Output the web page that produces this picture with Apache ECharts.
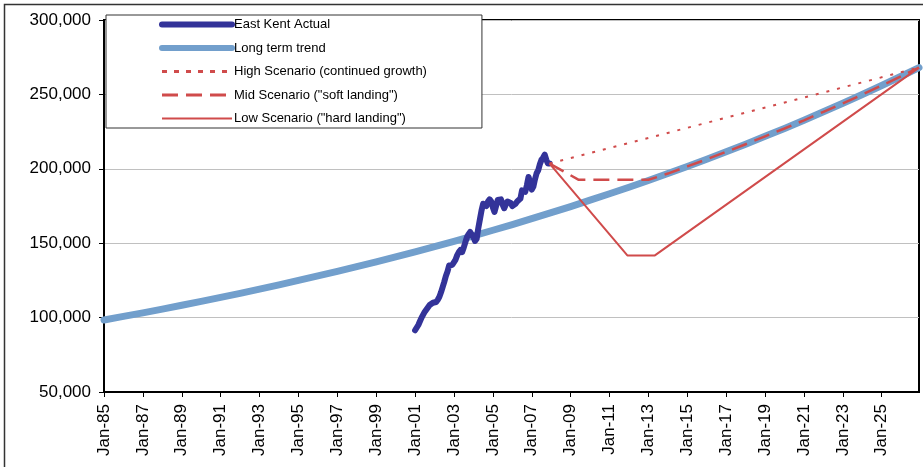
<!DOCTYPE html>
<html>
<head>
<meta charset="utf-8">
<script src="https://cdn.jsdelivr.net/npm/echarts@6/dist/echarts.min.js"></script>
<style>
  html, body { margin: 0; padding: 0; background: #fff; }
  #chart { width: 923px; height: 467px; }
</style>
</head>
<body>
<div id="chart"></div>
<script>
// ---------------- data ----------------
const axisStart = '1985-01';
const axisEnd = '2026-12';
const yTicks = [50000, 100000, 150000, 200000, 250000, 300000];

const seriesNames = [
  'East Kent Actual',
  'Long term trend',
  'High Scenario (continued growth)',
  'Mid Scenario ("soft landing")',
  'Low Scenario ("hard landing")'
];

const trendDates = ['1985-01','1986-01','1987-01','1988-01','1989-01','1990-01','1991-01','1992-01','1993-01','1994-01',
  '1995-01','1996-01','1997-01','1998-01','1999-01','2000-01','2001-01','2002-01','2003-01','2004-01',
  '2005-01','2006-01','2007-01','2008-01','2009-01','2010-01','2011-01','2012-01','2013-01','2014-01',
  '2015-01','2016-01','2017-01','2018-01','2019-01','2020-01','2021-01','2022-01','2023-01','2024-01',
  '2025-01','2026-01','2026-12'];
const trendValues = [98400,100800,103200,105700,108300,110900,113600,116300,119100,122000,
  125000,128000,131100,134300,137500,140800,144200,147700,151300,155000,
  158700,162500,166500,170500,174600,178900,183200,187600,192100,196800,
  201600,206400,211400,216500,221800,227100,232600,238300,244000,249900,
  256000,262200,268000];

const actualStart = '2001-01';
const actualValues = [
  91500, 92500, 95000, 97500,100000,102000,104000,105500,107000,108500,107500,110000,
 111000,110500,112000,114000,117000,120500,124000,128000,131000,135000,136000,135500,
 136500,139000,142000,144000,145500,144000,147000,150500,154000,156000,157500,157000,
 154000,151500,153000,160000,166000,172000,176500,177000,175000,178000,179500,178000,
 174000,171000,175000,179000,180000,179500,176000,173500,176000,178000,179000,177000,
 175000,174500,176500,178000,177500,180000,185500,186000,184500,189000,194500,191000,
 186000,188000,193000,197000,199000,203000,206000,207500,209500,206000,203500,203500];

const highDates = ['2007-12','2026-12'];
const highValues = [203500, 268000];

const midDates = ['2007-12','2009-06','2013-01','2014-01','2015-01','2016-01','2017-01','2018-01','2019-01',
  '2020-01','2021-01','2022-01','2023-01','2024-01','2025-01','2026-01','2026-12'];
const midValues = [203500,192600,192600,196800,201600,206400,211400,216500,221800,
  227100,232600,238300,244000,249900,256000,262200,268000];

const lowDates = ['2007-12','2011-12','2013-05','2026-12'];
const lowValues = [203500,141800,141800,268000];

// ---------------- helpers ----------------
function monthIndex(d) {
  const p = d.split('-');
  const s = axisStart.split('-');
  return (parseInt(p[0]) - parseInt(s[0])) * 12 + (parseInt(p[1]) - parseInt(s[1]));
}
function pairs(dates, values) {
  return dates.map((d, i) => [monthIndex(d), values[i]]);
}
function monthlyPairs(start, values) {
  const s = monthIndex(start);
  return values.map((v, i) => [s + i, v]);
}
function fmtThousands(v) {
  return String(v).replace(/\B(?=(\d{3})+(?!\d))/g, ',');
}
const monthNames = ['Jan','Feb','Mar','Apr','May','Jun','Jul','Aug','Sep','Oct','Nov','Dec'];
function fmtMonth(idx) {
  const s = axisStart.split('-');
  const total = parseInt(s[0]) * 12 + parseInt(s[1]) - 1 + idx;
  const y = Math.floor(total / 12), m = total % 12;
  return monthNames[m] + '-' + String(y % 100).padStart(2, '0');
}

const RED = '#D04B4B';
const NAVY = '#333399';
const STEEL = '#729FCC';
const FONT = '"Liberation Sans", Arial, sans-serif';

const styles = [
  { color: NAVY, width: 6, cap: 'round', join: 'round' },
  { color: STEEL, width: 7, cap: 'round', join: 'round' },
  { color: RED, width: 2, type: [3, 8] },
  { color: RED, width: 2.5, type: [16, 8] },
  { color: RED, width: 2 }
];
const legendStyles = [
  { color: NAVY, width: 6, cap: 'round' },
  { color: STEEL, width: 6, cap: 'round' },
  { color: RED, width: 3, type: [5, 7] },
  { color: RED, width: 3, type: [16, 8] },
  { color: RED, width: 2 }
];

const chart = echarts.init(document.getElementById('chart'), null, { renderer: 'canvas' });
chart.setOption({
  animation: false,
  backgroundColor: '#fff',
  textStyle: { fontFamily: FONT },
  graphic: [{
    type: 'rect', z: 0, silent: true,
    shape: { x: 4.5, y: 4.5, width: 930, height: 480 },
    style: { fill: null, stroke: '#333', lineWidth: 1.5 }
  }],
  grid: {
    left: 104, right: 4, top: 20, bottom: 75,
    show: true, borderColor: '#000', borderWidth: 2, backgroundColor: 'transparent'
  },
  legend: {
    orient: 'vertical',
    left: 106, top: 15,
    padding: [3, 55, 3, 53],
    itemWidth: 70, itemHeight: 14, itemGap: 10.5,
    backgroundColor: '#fff',
    borderColor: '#333', borderWidth: 1,
    z: 10,
    itemStyle: { opacity: 0 },
    textStyle: { fontSize: 13, color: '#000', fontFamily: FONT, padding: [4, 0, 0, -3] },
    data: seriesNames.map((n, i) => ({ name: n, lineStyle: legendStyles[i] }))
  },
  xAxis: {
    type: 'value',
    min: 0, max: monthIndex(axisEnd), interval: 24,
    axisLine: { show: true, lineStyle: { color: '#000', width: 2 } },
    axisTick: { show: true, inside: false, length: 5, lineStyle: { color: '#000', width: 1 } },
    splitLine: { show: false },
    axisLabel: {
      rotate: 90, margin: 12, fontSize: 17, color: '#000', fontFamily: FONT,
      showMaxLabel: false,
      formatter: v => fmtMonth(v)
    }
  },
  yAxis: {
    type: 'value',
    min: yTicks[0], max: yTicks[yTicks.length - 1], interval: yTicks[1] - yTicks[0],
    axisLine: { show: true, lineStyle: { color: '#000', width: 2 } },
    axisTick: { show: true, inside: false, length: 5, lineStyle: { color: '#000', width: 1 } },
    splitLine: { show: true, lineStyle: { color: '#C0C0C0', width: 1 } },
    axisLabel: { margin: 13, fontSize: 17, color: '#000', fontFamily: FONT, formatter: v => fmtThousands(v) }
  },
  series: [
    {
      name: seriesNames[0], type: 'line', z: 3, symbol: 'none', showSymbol: false,
      data: monthlyPairs(actualStart, actualValues),
      lineStyle: styles[0], itemStyle: { color: NAVY }
    },
    {
      name: seriesNames[1], type: 'line', z: 2, symbol: 'none', showSymbol: false,
      data: pairs(trendDates, trendValues),
      lineStyle: styles[1], itemStyle: { color: STEEL }
    },
    {
      name: seriesNames[2], type: 'line', z: 4, symbol: 'none', showSymbol: false,
      data: pairs(highDates, highValues),
      lineStyle: styles[2], itemStyle: { color: RED }
    },
    {
      name: seriesNames[3], type: 'line', z: 4, symbol: 'none', showSymbol: false,
      data: pairs(midDates, midValues),
      lineStyle: styles[3], itemStyle: { color: RED }
    },
    {
      name: seriesNames[4], type: 'line', z: 4, symbol: 'none', showSymbol: false,
      data: pairs(lowDates, lowValues),
      lineStyle: styles[4], itemStyle: { color: RED }
    }
  ]
});
</script>
</body>
</html>
